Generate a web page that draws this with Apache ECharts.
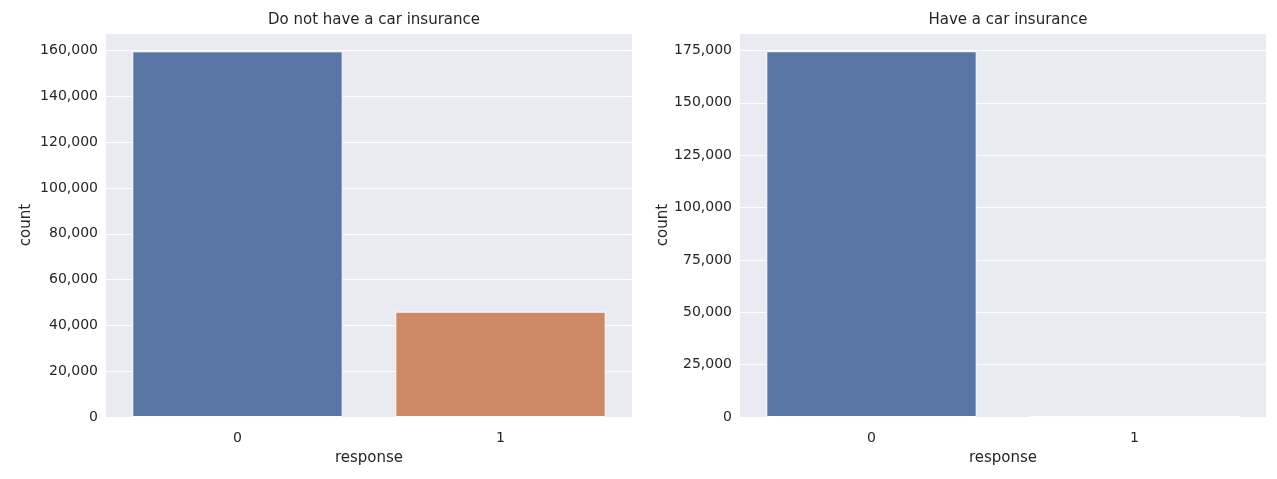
<!DOCTYPE html>
<html>
<head>
<meta charset="utf-8">
<script src="https://cdn.jsdelivr.net/npm/echarts@6/dist/echarts.min.js"></script>
<style>body{margin:0}#c{width:1277px;height:479px}</style>
</head>
<body>
<div id="c"></div>
<script>
var categories = ['0', '1'];
var noInsurance = [159700, 46000];
var hasInsurance = [174600, 150];
var titles = ['Do not have a car insurance', 'Have a car insurance'];
var barColors = ['#5975A4', '#CC8963'];

var font = 'DejaVu Sans';
var txt = '#262626';
var chart = echarts.init(document.getElementById('c'));

function yAxis(idx, max, interval) {
  return {
    gridIndex: idx, type: 'value', min: 0, max: max, interval: interval,
    name: 'count', nameLocation: 'middle', nameGap: idx ? 58 : 72, nameRotate: 90,
    nameTextStyle: {fontFamily: font, fontSize: 15, color: txt},
    axisLabel: {fontFamily: font, fontSize: 14, color: txt, showMaxLabel: false},
    axisLine: {show: false}, axisTick: {show: false},
    splitLine: {lineStyle: {color: '#fff', width: 1.2}}
  };
}
function xAxis(idx) {
  return {
    gridIndex: idx, type: 'category', data: categories,
    name: 'response', nameLocation: 'middle', nameGap: 34,
    nameTextStyle: {fontFamily: font, fontSize: 15, color: txt},
    axisLabel: {fontFamily: font, fontSize: 14, color: txt, margin: 14},
    axisLine: {show: false}, axisTick: {show: false}, splitLine: {show: false}
  };
}
function series(idx, data) {
  return {
    type: 'bar', xAxisIndex: idx, yAxisIndex: idx, barCategoryGap: '20%',
    data: data.map(function (v, i) { return {value: v, itemStyle: {color: barColors[i]}}; }),
    itemStyle: {borderColor: '#fff', borderWidth: 1}
  };
}

chart.setOption({
  animation: false,
  title: [
    {text: titles[0], left: 369, top: 8, textAlign: 'center', textStyle: {fontFamily: font, fontSize: 15, fontWeight: 'normal', color: txt}},
    {text: titles[1], left: 1003, top: 8, textAlign: 'center', textStyle: {fontFamily: font, fontSize: 15, fontWeight: 'normal', color: txt}}
  ],
  grid: [
    {left: 106, right: 645, top: 33, bottom: 62, show: true, backgroundColor: '#EAEAF2', borderWidth: 0},
    {left: 740, right: 11, top: 33, bottom: 62, show: true, backgroundColor: '#EAEAF2', borderWidth: 0}
  ],
  xAxis: [xAxis(0), xAxis(1)],
  yAxis: [yAxis(0, 167700, 20000), yAxis(1, 183300, 25000)],
  series: [series(0, noInsurance), series(1, hasInsurance)]
});
</script>
</body>
</html>
